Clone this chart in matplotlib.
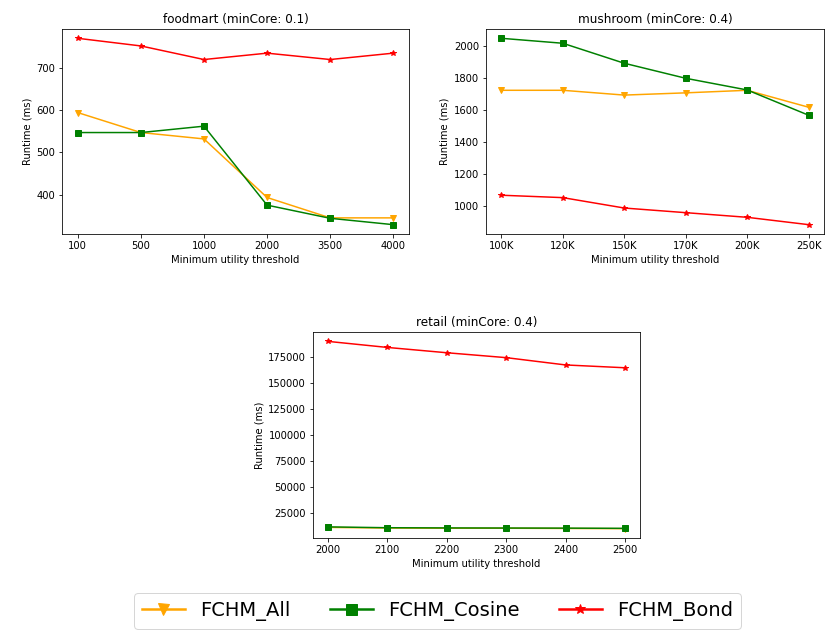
import numpy as np
import matplotlib
matplotlib.use("Agg")
import matplotlib.pyplot as plt
from matplotlib.lines import Line2D

# Runtime (ms) per dataset, one list per algorithm
foodmart_x = ["100", "500", "1000", "2000", "3500", "4000"]
foodmart_all = [594, 547, 532, 394, 346, 346]
foodmart_cosine = [547, 547, 562, 376, 345, 330]
foodmart_bond = [769, 751, 719, 734, 719, 734]

mushroom_x = ["100K", "120K", "150K", "170K", "200K", "250K"]
mushroom_all = [1721, 1721, 1691, 1705, 1721, 1615]
mushroom_cosine = [2046, 2015, 1890, 1796, 1723, 1565]
mushroom_bond = [1065, 1050, 985, 956, 927, 881]

retail_x = ["2000", "2100", "2200", "2300", "2400", "2500"]
retail_all = [11500, 10900, 10700, 10700, 10500, 10300]
retail_cosine = [12000, 11200, 11000, 10900, 10800, 10600]
retail_bond = [189800, 184000, 178900, 174200, 167200, 164500]

series_names = ["FCHM_All", "FCHM_Cosine", "FCHM_Bond"]
colors = ["orange", "green", "red"]
markers = ["v", "s", "*"]


def plot_dataset(ax, labels, values, title):
    pos = np.arange(len(labels))
    for v, name, c, m in zip(values, series_names, colors, markers):
        ax.plot(pos, v, color=c, marker=m, label=name)
    ax.set_xticks(pos)
    ax.set_xticklabels(labels)
    ax.set_title(title)
    ax.set_xlabel("Minimum utility threshold")
    ax.set_ylabel("Runtime (ms)")


fig = plt.figure(figsize=(829 / 72, 630 / 72), dpi=72)
ax1 = fig.add_axes([0.0748, 0.6286, 0.4186, 0.3254])
ax2 = fig.add_axes([0.5862, 0.6286, 0.4078, 0.3254])
ax3 = fig.add_axes([0.3776, 0.146, 0.3944, 0.327])

plot_dataset(ax1, foodmart_x, [foodmart_all, foodmart_cosine, foodmart_bond],
             "foodmart (minCore: 0.1)")
plot_dataset(ax2, mushroom_x, [mushroom_all, mushroom_cosine, mushroom_bond],
             "mushroom (minCore: 0.4)")
plot_dataset(ax3, retail_x, [retail_all, retail_cosine, retail_bond],
             "retail (minCore: 0.4)")

# shared legend with thicker handles
handles = [Line2D([], [], color=c, marker=m, lw=2.5, markersize=11)
           for c, m in zip(colors, markers)]
fig.legend(handles, series_names, loc="upper center",
           bbox_to_anchor=(0.528, 0.0587), ncol=3, fontsize=19.5,
           handlelength=2.2, borderaxespad=0)

fig.savefig("out.png", dpi=72)
